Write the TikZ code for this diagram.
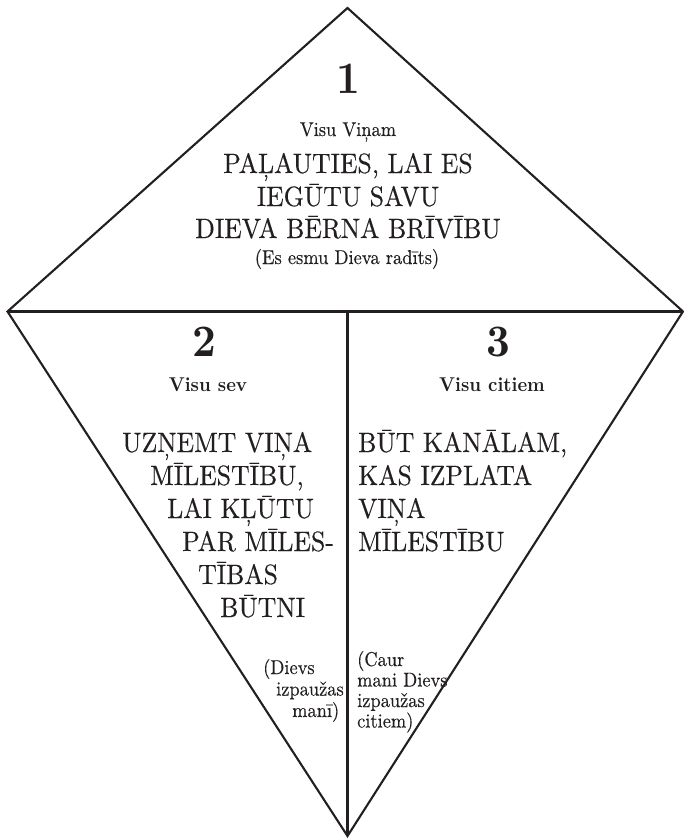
\documentclass[tikz,border=0pt]{standalone}
\usepackage{fontspec}
\setmainfont{lmroman10-regular}[Extension=.otf, BoldFont=lmroman10-bold, ItalicFont=lmroman10-italic, FakeStretch=0.92, UprightFeatures={FakeBold=0.3}]
\definecolor{ink}{HTML}{231F20}
\tikzset{
  edge/.style={line width=2.1pt, draw=ink, line join=miter},
  txt/.style={inner sep=0pt, text=ink},
  big/.style={txt, font=\fontsize{28}{33}\selectfont},
  small/.style={txt, font=\fontsize{20}{22}\selectfont},
  lbl/.style={txt, font=\fontsize{20}{24}\selectfont\bfseries},
  num/.style={txt, font=\fontsize{45}{50}\selectfont\bfseries},
}
\begin{document}
\begin{tikzpicture}[x=1pt,y=-1pt]
\useasboundingbox (0,0) rectangle (684,838);
% vertices
\coordinate (T) at (347.5,8);
\coordinate (L) at (7.5,311.5);
\coordinate (R) at (683,311.5);
\coordinate (B) at (347.5,836);
\coordinate (M) at (347.5,311.5);
\draw[edge] (T) -- (R) -- (B) -- (L) -- cycle;
\draw[edge] (L) -- (R);
\draw[edge] (M) -- (B);

% region 1
\node[num, anchor=base] (n1) at (348.5,93) {1};
\node[small, anchor=base] (t1a) at (348,136) {Visu Viņam};
\node[big, anchor=base] (t1b) at (348,173) {PAĻAUTIES, LAI ES};
\node[big, anchor=base] (t1c) at (348,206) {IEGŪTU SAVU};
\node[big, anchor=base] (t1d) at (348,238) {DIEVA BĒRNA BRĪVĪBU};
\node[small, anchor=base] (t1e) at (347,264) {(Es esmu Dieva radīts)};

% region 2
\node[num, anchor=base] (n2) at (204,356) {2};
\node[lbl, anchor=base] (t2a) at (208,391) {Visu sev};
\node[big, anchor=base west] (t2b) at (122,452) {UZŅEMT VIŅA};
\node[big, anchor=base west] (t2c) at (150,485) {MĪLESTĪBU,};
\node[big, anchor=base west] (t2d) at (167,518) {LAI KĻŪTU};
\node[big, anchor=base west] (t2e) at (182,551) {PAR MĪLES-};
\node[big, anchor=base west] (t2f) at (198,584) {TĪBAS};
\node[big, anchor=base west] (t2g) at (220,617) {BŪTNI};
\node[small, anchor=base west] (t2h) at (263,674) {(Dievs};
\node[small, anchor=base west] (t2i) at (276,695.5) {izpaužas};
\node[small, anchor=base west] (t2j) at (292,717) {manī)};

% region 3
\node[num, anchor=base] (n3) at (498,356) {3};
\node[lbl, anchor=base] (t3a) at (492,391) {Visu citiem};
\node[big, anchor=base west] (t3b) at (358,452) {BŪT KANĀLAM,};
\node[big, anchor=base west] (t3c) at (358,485) {KAS IZPLATA};
\node[big, anchor=base west] (t3d) at (358,518) {VIŅA};
\node[big, anchor=base west] (t3e) at (358,551) {MĪLESTĪBU};
\node[small, anchor=base west] (t3f) at (357,666) {(Caur};
\node[small, anchor=base west] (t3g) at (357,686.5) {mani Dievs};
\node[small, anchor=base west] (t3h) at (357,707) {izpaužas};
\node[small, anchor=base west] (t3i) at (357,727.5) {citiem)};
\end{tikzpicture}
\end{document}
